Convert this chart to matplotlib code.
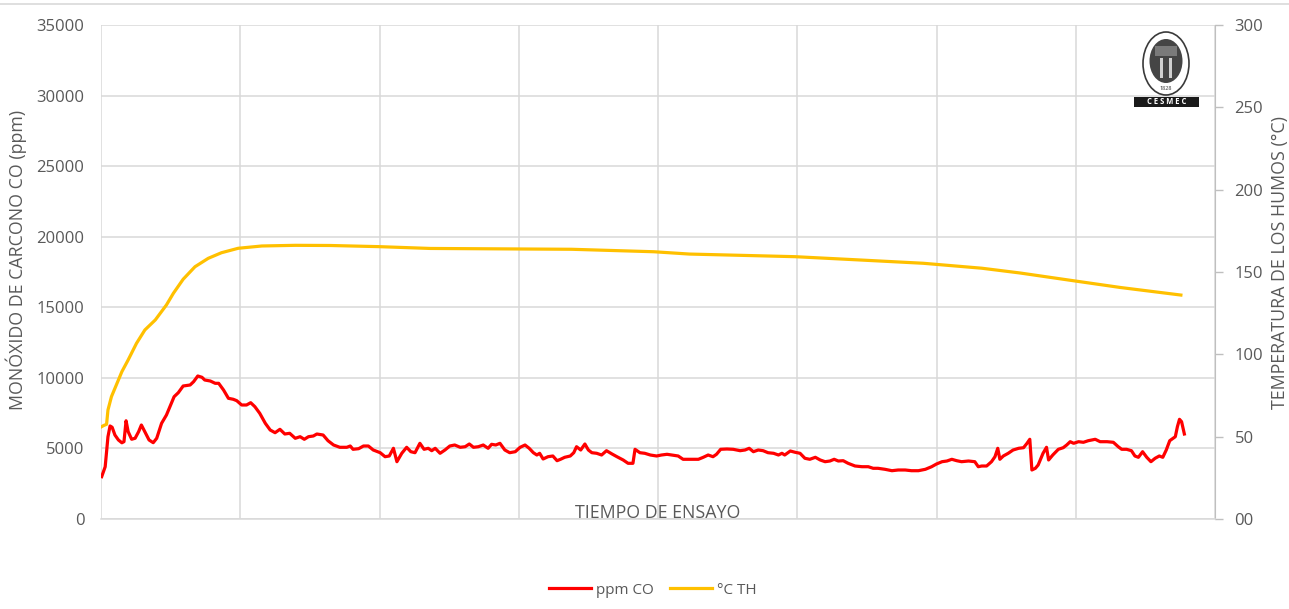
import matplotlib.pyplot as plt
from matplotlib.patches import Ellipse, Rectangle
from matplotlib.lines import Line2D
from matplotlib.ticker import FixedLocator, FixedFormatter, MultipleLocator, NullFormatter

plt.rcParams['font.family'] = ['Open Sans', 'DejaVu Sans']

# Test time (min) and CO concentration (ppm)
co_time = [
    0.1, 0.6, 1.0, 1.3, 1.6, 2.0, 2.5, 3.0, 3.3, 3.6, 3.9, 4.4, 4.9, 5.4, 5.8, 6.3,
    6.9, 7.5, 8.0, 8.7, 9.4, 9.9, 10.5, 11.1, 11.8, 12.8, 13.3, 13.9, 14.5, 14.9,
    15.7, 16.4, 16.9, 17.6, 18.3, 19.0, 19.5, 20.2, 20.9, 21.5, 22.1, 22.8, 23.6,
    24.3, 25.0, 25.7, 26.4, 27.1, 27.9, 28.6, 29.2, 29.8, 30.5, 31.0, 31.9, 32.6,
    33.4, 34.3, 35.3, 35.8, 36.2, 37.0, 37.7, 38.4, 39.1, 40.1, 40.8, 41.4, 42.0,
    42.5, 43.2, 43.9, 44.5, 45.1, 45.8, 46.4, 47.0, 47.5, 48.0, 48.7, 49.4, 50.1,
    50.8, 51.6, 52.3, 52.9, 53.5, 54.2, 54.9, 55.6, 56.1, 56.7, 57.3, 58.0, 58.7,
    59.5, 60.2, 60.9, 61.5, 62.1, 62.6, 63.0, 63.5, 64.2, 64.9, 65.5, 66.0, 66.6,
    67.4, 67.9, 68.3, 68.9, 69.5, 70.0, 70.5, 71.2, 71.9, 72.6, 73.4, 74.1, 75.0,
    75.7, 76.4, 76.7, 77.4, 78.1, 78.9, 79.8, 80.5, 81.3, 82.0, 82.9, 83.6, 84.6,
    85.8, 86.5, 87.2, 87.9, 88.4, 89.0, 89.9, 90.8, 91.8, 92.5, 93.1, 93.7, 94.4,
    95.1, 95.8, 96.6, 97.3, 97.8, 98.2, 99.0, 99.7, 100.4, 101.1, 101.8, 102.6,
    103.3, 104.0, 104.7, 105.3, 105.9, 106.6, 107.3, 108.3, 109.3, 110.2, 110.9,
    111.6, 112.6, 113.6, 114.5, 115.5, 116.4, 117.4, 118.4, 119.3, 120.0, 120.8,
    121.5, 122.2, 122.9, 123.6, 124.6, 125.5, 126.0, 126.5, 127.2, 127.9, 128.4,
    128.8, 129.1, 129.6, 130.3, 131.0, 131.8, 132.5, 133.0, 133.4, 133.7, 134.2,
    134.6, 135.3, 135.8, 136.1, 136.7, 137.5, 138.2, 138.7, 139.2, 139.7, 140.4,
    141.1, 141.8, 142.8, 143.5, 144.5, 145.4, 146.1, 146.6, 147.3, 148.0, 148.5,
    149.0, 149.6, 150.2, 150.8, 151.4, 152.0, 152.5, 153.0, 153.5, 154.3, 154.6,
    154.9, 155.2, 155.6,
]
co_ppm = [
    3000, 3700, 5830, 6590, 6500, 5950, 5600, 5400, 5480, 6960, 6190, 5650, 5720,
    6185, 6660, 6185, 5600, 5406, 5718, 6780, 7368, 7957, 8665, 8948, 9423, 9494,
    9728, 10132, 10040, 9848, 9777, 9614, 9614, 9140, 8552, 8481, 8382, 8077, 8077,
    8240, 7957, 7489, 6780, 6306, 6114, 6355, 6022, 6072, 5718, 5831, 5647, 5831,
    5881, 6022, 5951, 5548, 5243, 5080, 5080, 5172, 4938, 4981, 5172, 5172, 4889,
    4697, 4414, 4464, 5009, 4060, 4655, 5080, 4768, 4697, 5363, 4938, 5009, 4839,
    5009, 4655, 4889, 5172, 5243, 5080, 5122, 5314, 5080, 5122, 5243, 5009, 5292,
    5243, 5363, 4889, 4697, 4768, 5080, 5243, 5009, 4697, 4534, 4655, 4251, 4414,
    4464, 4131, 4230, 4371, 4464, 4697, 5122, 4889, 5314, 4889, 4697, 4655, 4534,
    4839, 4605, 4414, 4180, 3946, 3946, 4938, 4697, 4655, 4534, 4464, 4534, 4584,
    4534, 4464, 4230, 4230, 4230, 4371, 4534, 4414, 4584, 4938, 4960, 4938, 4839,
    4889, 5009, 4768, 4889, 4839, 4697, 4655, 4534, 4655, 4534, 4818, 4726, 4655,
    4301, 4230, 4371, 4180, 4060, 4109, 4230, 4109, 4131, 3946, 3755, 3705, 3705,
    3592, 3592, 3521, 3422, 3472, 3472, 3422, 3422, 3521, 3705, 3897, 4060, 4109,
    4230, 4131, 4060, 4109, 4060, 3705, 3755, 3755, 4060, 4414, 5009, 4230, 4464,
    4655, 4889, 5009, 5052, 5363, 5647, 3472, 3592, 3826, 4655, 5080, 4180, 4534,
    4938, 5052, 5243, 5477, 5363, 5477, 5434, 5548, 5647, 5477, 5477, 5434, 5122,
    4938, 4938, 4839, 4464, 4371, 4768, 4371, 4060, 4301, 4464, 4371, 4889, 5548,
    5831, 6540, 7064, 6894, 6022,
]

# Flue gas temperature (°C)
th_time = [
    0.1, 0.4, 0.8, 1.0, 1.5, 2.3, 3.0, 3.9, 5.1, 6.3, 7.8, 9.4, 10.4, 11.8, 13.5,
    15.4, 17.3, 19.7, 23.1, 27.9, 32.9, 39.9, 47.3, 59.3, 67.6, 79.4, 84.5, 99.7,
    109.0, 118.1, 126.5, 132.0, 139.0, 146.4, 155.1,
]
th_temp = [
    56.1, 56.8, 57.5, 66.2, 74.3, 82.4, 89.5, 96.6, 106.7, 114.8, 120.9, 130.0,
    137.1, 145.6, 153.2, 158.3, 161.7, 164.4, 165.8, 166.2, 166.1, 165.4, 164.3,
    164.0, 163.8, 162.3, 160.9, 159.3, 157.3, 155.3, 152.3, 149.4, 145.1, 140.6,
    136.0,
]

right_ticks = [0, 50, 100, 150, 200, 250, 300]
right_labels = ['00', '50', '100', '150', '200', '250', '300']

grey = '#595959'
grid = '#d9d9d9'

fig = plt.figure(figsize=(12.89, 6.09), dpi=100)
ax = fig.add_axes([101 / 1289, 1 - 519 / 609, 1114 / 1289, 494 / 609])
ax2 = ax.twinx()

ax.plot(co_time, co_ppm, color='#ff0000', lw=2.3, solid_joinstyle='round', zorder=3)
ax2.plot(th_time, th_temp, color='#ffc000', lw=2.3, solid_joinstyle='round', zorder=3)

ax.set_xlim(0, 160)
ax.set_ylim(0, 35000)
ax2.set_ylim(0, 300)

ax.xaxis.set_major_locator(MultipleLocator(20))
ax.xaxis.set_major_formatter(NullFormatter())
ax.yaxis.set_major_locator(MultipleLocator(5000))
ax.grid(True, color=grid, lw=1.1)
ax.set_axisbelow(True)
ax.tick_params(axis='both', length=0, colors=grey, labelsize=12, pad=12)
ax.tick_params(axis='x', pad=0)

ax2.yaxis.set_major_locator(FixedLocator(right_ticks))
ax2.yaxis.set_major_formatter(FixedFormatter(right_labels))
ax2.tick_params(axis='y', length=6, width=1, color='#bfbfbf', colors=grey,
                labelsize=12, pad=8)
ax2.tick_params(axis='y', color='#bfbfbf')

for a in (ax, ax2):
    for side in ('top', 'left', 'right', 'bottom'):
        a.spines[side].set_visible(False)
ax2.spines['right'].set_visible(True)
ax2.spines['right'].set_color('#bfbfbf')
ax2.spines['bottom'].set_visible(True)
ax2.spines['bottom'].set_color(grid)
ax2.spines['bottom'].set_linewidth(1.1)

ax.set_ylabel('MONÓXIDO DE CARCONO CO (ppm)', color=grey, fontsize=12.8)
ax.yaxis.set_label_coords(-0.066, 0.524)
ax2.set_ylabel('TEMPERATURA DE LOS HUMOS (°C)', color=grey, fontsize=12.8)
ax2.yaxis.set_label_coords(1.050, 0.519)

ax.text(0.5, 0.013, 'TIEMPO DE ENSAYO', transform=ax.transAxes, ha='center',
        va='center', color=grey, fontsize=12.8, zorder=5)

handles = [Line2D([], [], color='#ff0000', lw=2.3),
           Line2D([], [], color='#ffc000', lw=2.3)]
fig.legend(handles, ['ppm CO', '°C TH'], loc='center', ncol=2,
           bbox_to_anchor=(653 / 1289, 1 - 590 / 609), frameon=False,
           handlelength=2.7, handletextpad=0.35, columnspacing=1.1,
           fontsize=11, labelcolor=grey)

# frame line along the top of the chart area
fig.add_artist(Line2D([0, 1], [1 - 4 / 609, 1 - 4 / 609], color=grid, lw=1.2))

# CESMEC / Bureau Veritas badge
logo = fig.add_axes([1130 / 1289, 1 - 110 / 609, 73 / 1289, 82 / 609])
logo.set_xlim(1130, 1203)
logo.set_ylim(110, 28)
logo.axis('off')
logo.add_patch(Ellipse((1166, 63.5), 46, 63, fc='white', ec='#3a3a3a', lw=1.2))
logo.add_patch(Ellipse((1166, 61), 33, 44, fc='#454545', ec='none'))
logo.add_patch(Rectangle((1155, 46), 22, 10, fc='#7a7a7a', ec='none'))
logo.add_patch(Rectangle((1160, 58), 3, 20, fc='#d0d0d0', ec='none'))
logo.add_patch(Rectangle((1169, 58), 3, 20, fc='#d0d0d0', ec='none'))
logo.text(1166, 88, '1828', ha='center', va='center', fontsize=4, color='#333333')
logo.add_patch(Rectangle((1134, 97), 65, 10, fc='#1a1a1a', ec='none'))
logo.text(1166.5, 102, 'C E S M E C', ha='center', va='center', fontsize=5.5,
          color='white', fontweight='bold')

fig.savefig('out.png', dpi=100)
